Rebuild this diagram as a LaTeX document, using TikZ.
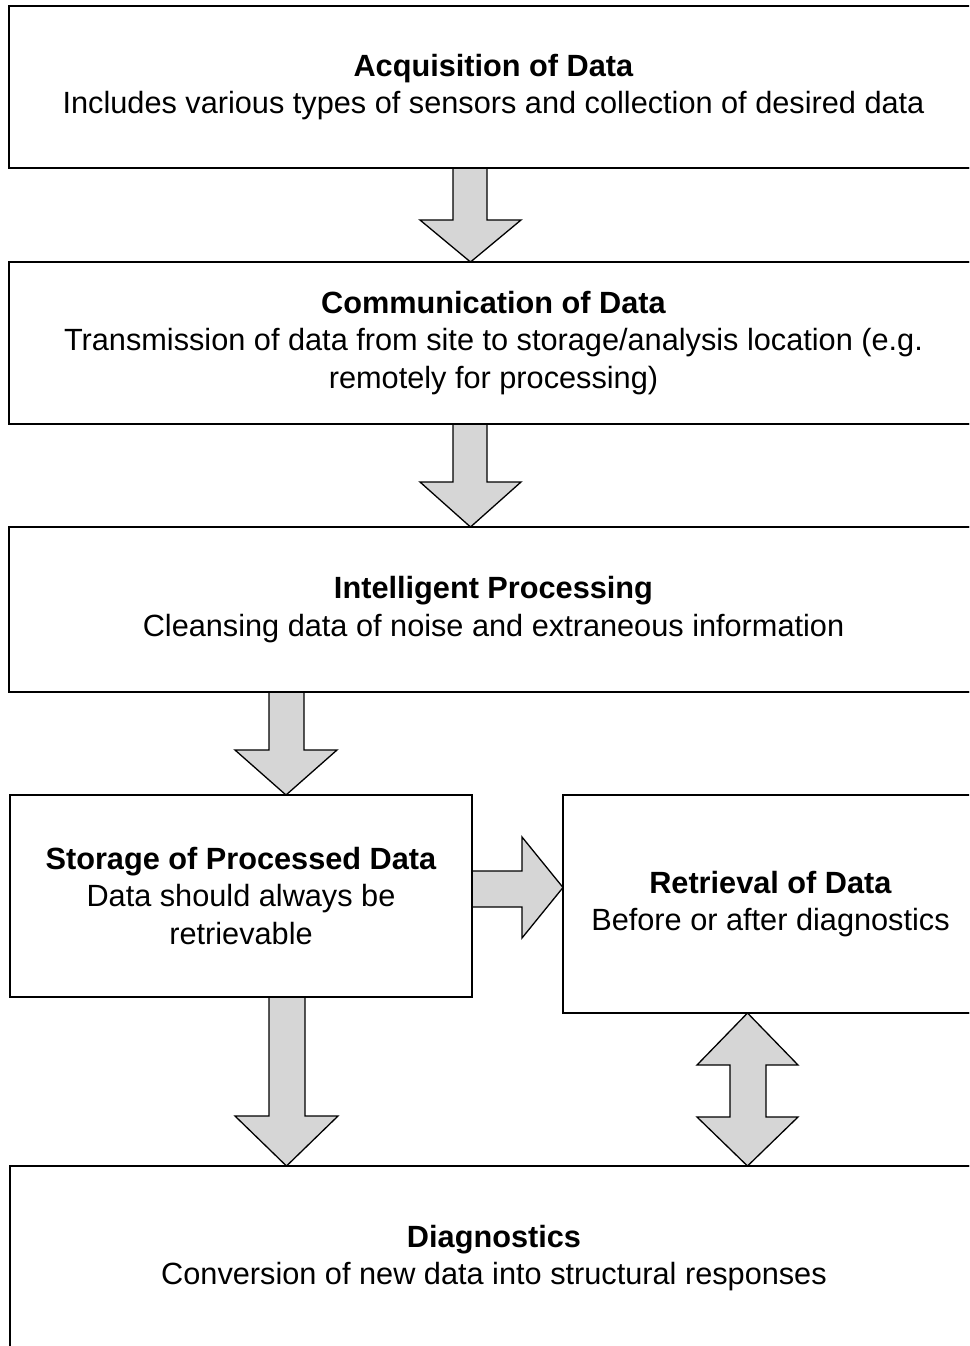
\documentclass[tikz,border=0pt]{standalone}
\usepackage{fontspec}
\setmainfont{Liberation Sans}
\begin{document}
\begin{tikzpicture}[x=1pt,y=-1pt,
  box/.style={draw=black,line width=1.8pt,rectangle,anchor=north west,inner sep=0pt,outer sep=0pt,align=center,font=\fontsize{30.7}{37.8}\selectfont},
  arrowfill/.style={fill=black!16,draw=none},
  arrowline/.style={draw=black,line width=1.3pt,line join=miter}]
\useasboundingbox (0,0) rectangle (969,1346);
\clip (0,0) rectangle (969,1346);
\node[box,minimum width=969pt,minimum height=162pt] (b1) at (9,6) {\textbf{Acquisition of Data}\\Includes various types of sensors and collection of desired data};
\node[box,minimum width=969pt,minimum height=162pt] (b2) at (9,262) {\textbf{Communication of Data}\\Transmission of data from site to storage/analysis location (e.g.\\remotely for processing)};
\node[box,minimum width=969pt,minimum height=165pt] (b3) at (9,527) {\textbf{Intelligent Processing}\\Cleansing data of noise and extraneous information};
\node[box,minimum width=462pt,minimum height=202pt] (b4) at (10,795) {\textbf{Storage of Processed Data}\\Data should always be\\retrievable};
\node[box,minimum width=415pt,minimum height=218pt] (b5) at (563,795) {\textbf{Retrieval of Data}\\Before or after diagnostics};
\node[box,minimum width=968pt,minimum height=184pt] (b6) at (10,1166) {\textbf{Diagnostics}\\Conversion of new data into structural responses};
% arrow 1
\fill[arrowfill] (453,0 |- b1.south) -- (453,220) -- (420,220) -- (470.5,0 |- b2.north) -- (521,220) -- (487,220) -- (487,0 |- b1.south) -- cycle;
\draw[arrowline] (453,0 |- b1.south) -- (453,220) -- (420,220) -- (470.5,0 |- b2.north) -- (521,220) -- (487,220) -- (487,0 |- b1.south);
% arrow 2
\fill[arrowfill] (453,0 |- b2.south) -- (453,482) -- (420,482) -- (470.5,0 |- b3.north) -- (521,482) -- (487,482) -- (487,0 |- b2.south) -- cycle;
\draw[arrowline] (453,0 |- b2.south) -- (453,482) -- (420,482) -- (470.5,0 |- b3.north) -- (521,482) -- (487,482) -- (487,0 |- b2.south);
% arrow 3
\fill[arrowfill] (269,0 |- b3.south) -- (269,750) -- (235,750) -- (286,0 |- b4.north) -- (337,750) -- (304,750) -- (304,0 |- b3.south) -- cycle;
\draw[arrowline] (269,0 |- b3.south) -- (269,750) -- (235,750) -- (286,0 |- b4.north) -- (337,750) -- (304,750) -- (304,0 |- b3.south);
% arrow 4 (right)
\fill[arrowfill] (b4.east |- 0,871) -- (522,871) -- (522,837) -- (b5.west |- 0,887.5) -- (522,938) -- (522,907) -- (b4.east |- 0,907) -- cycle;
\draw[arrowline] (b4.east |- 0,871) -- (522,871) -- (522,837) -- (b5.west |- 0,887.5) -- (522,938) -- (522,907) -- (b4.east |- 0,907);
% arrow 5
\fill[arrowfill] (269,0 |- b4.south) -- (269,1116) -- (235,1116) -- (286.5,0 |- b6.north) -- (338,1116) -- (305,1116) -- (305,0 |- b4.south) -- cycle;
\draw[arrowline] (269,0 |- b4.south) -- (269,1116) -- (235,1116) -- (286.5,0 |- b6.north) -- (338,1116) -- (305,1116) -- (305,0 |- b4.south);
% arrow 6 (double)
\filldraw[arrowfill,arrowline] (747.5,0 |- b5.south) -- (798,1065) -- (766,1065) -- (766,1117) -- (798,1117) -- (747.5,0 |- b6.north) -- (697,1117) -- (730,1117) -- (730,1065) -- (697,1065) -- cycle;
% redraw box borders on top
\draw[line width=1.8pt] (b1.south west) -- (b1.south east);
\draw[line width=1.8pt] (b2.north west) -- (b2.north east) (b2.south west) -- (b2.south east);
\draw[line width=1.8pt] (b3.north west) -- (b3.north east) (b3.south west) -- (b3.south east);
\draw[line width=1.8pt] (b4.north west) -- (b4.north east) (b4.south west) -- (b4.south east) (b4.north east) -- (b4.south east);
\draw[line width=1.8pt] (b5.north west) -- (b5.south west) (b5.south west) -- (b5.south east);
\draw[line width=1.8pt] (b6.north west) -- (b6.north east);
\end{tikzpicture}
\end{document}
